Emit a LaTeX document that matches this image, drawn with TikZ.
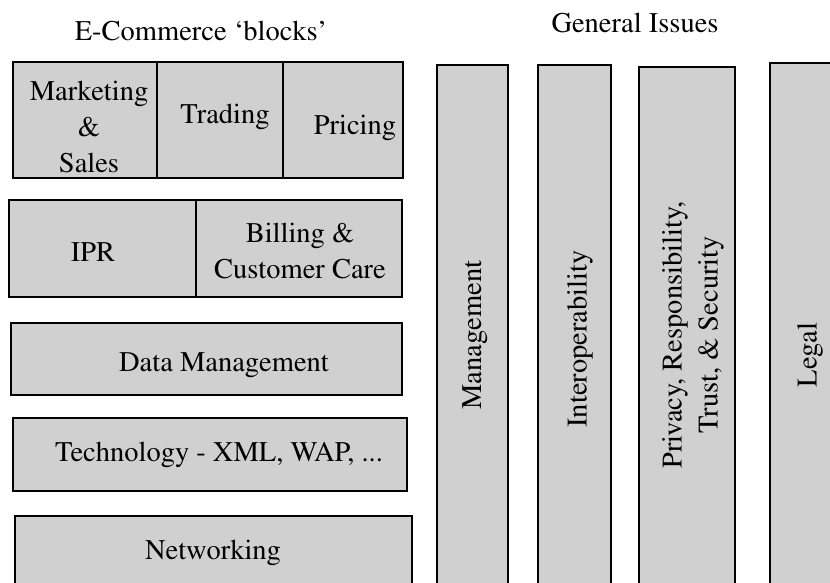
\documentclass[tikz,border=0pt]{standalone}
\usepackage[T1]{fontenc}
\usepackage{mathptmx}
\usetikzlibrary{fit}
\definecolor{blockgray}{RGB}{208,208,208}
\tikzset{
  cell/.style={draw=black, fill=blockgray, line width=1.2pt, inner sep=0pt},
  lbl/.style={font=\fontsize{28.5}{36}\selectfont, align=center, inner sep=0pt, text=black},
  head/.style={font=\fontsize{28.5}{34}\selectfont, inner sep=0pt, text=black}
}
\begin{document}
\begin{tikzpicture}[x=1pt, y=-1pt]
  \useasboundingbox (0,0) rectangle (830,582);
  \clip (0,0) rectangle (830,582);
  \fill[white] (0,0) rectangle (830,582);

  % headings
  \node[head] (hblocks) at (201,31) {E-Commerce `blocks'};
  \node[head] (hissues) at (635,23) {General Issues};

  % e-commerce blocks, top to bottom
  \node[cell, fit={(13,62) (157,178)}] (mkt) {};
  \node[cell, fit={(157,62) (283,178)}] (trd) {};
  \node[cell, fit={(283,62) (403,178)}] (prc) {};
  \node[lbl] (tmkt) at (89,127) {Marketing\\\&\\Sales};
  \node[lbl] (ttrd) at (225,117) {Trading};
  \node[lbl] (tprc) at (355,128) {Pricing};

  \node[cell, fit={(9,200) (196,297)}] (ipr) {};
  \node[cell, fit={(196,200) (402,297)}] (bill) {};
  \node[lbl] (tipr) at (93,252) {IPR};
  \node[lbl] (tbill) at (300,251) {Billing \&\\Customer Care};

  \node[cell, fit={(11,323) (402,395)}] (dm) {};
  \node[lbl] (tdm) at (224,365) {Data Management};

  \node[cell, fit={(13,418) (407,491)}] (tech) {};
  \node[lbl] (ttech) at (219,455) {Technology - XML, WAP, ...};

  \node[cell, fit={(15,516) (412,610)}] (net) {};
  \node[lbl] (tnet) at (213,553) {Networking};

  % general issues, vertical columns
  \node[cell, fit={(437,65) (508,610)}] (mgmt) {};
  \node[cell, fit={(538,65) (611,610)}] (interop) {};
  \node[cell, fit={(639,67) (735,610)}] (priv) {};
  \node[cell, fit={(770,63) (850,610)}] (legal) {};
  \node[lbl, rotate=90] (tmgmt) at (475,335) {Management};
  \node[lbl, rotate=90] (tinterop) at (580,339) {Interoperability};
  \node[lbl, rotate=90] (tpriv) at (693,335) {Privacy, Responsibility,\\Trust, \& Security};
  \node[lbl, rotate=90] (tlegal) at (810,355) {Legal};
\end{tikzpicture}
\end{document}
